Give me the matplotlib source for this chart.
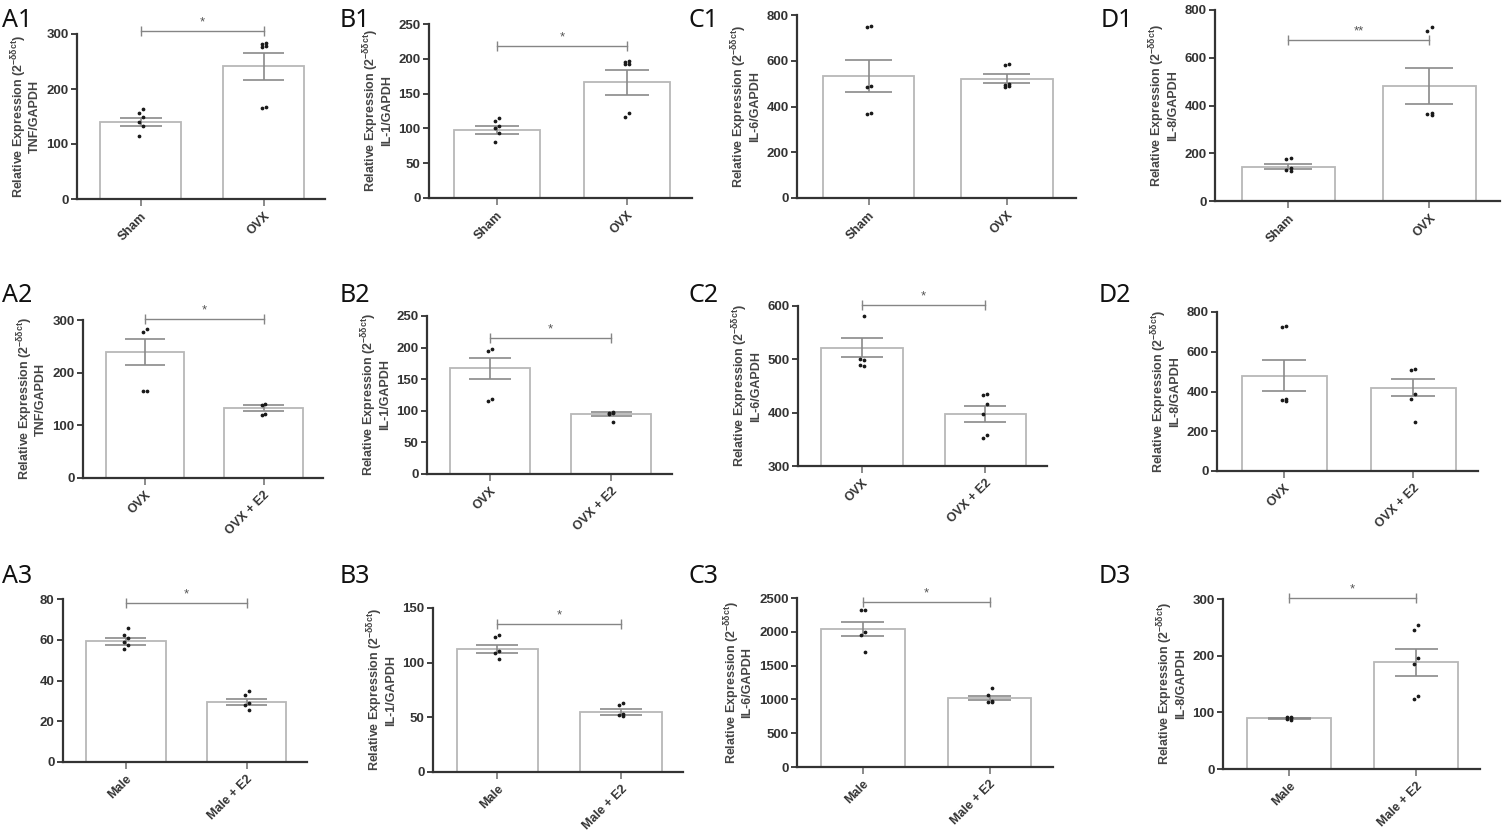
import matplotlib.pyplot as plt
import numpy as np

plt.rcParams['font.family'] = ['Liberation Sans', 'DejaVu Sans']
plt.rcParams['mathtext.default'] = 'regular'

W, H = 1504, 831

# group names per row
row1_groups = ['Sham', 'OVX']
row2_groups = ['OVX', 'OVX + E2']
row3_groups = ['Male', 'Male + E2']

# row 1: Sham vs OVX
a1_mean = [140, 241]
a1_sem = [8, 24]
a1_pts = [[164, 157, 149, 140, 133, 115], [284, 282, 279, 277, 167, 165]]

b1_mean = [98, 166]
b1_sem = [5.5, 18]
b1_pts = [[115, 111, 104, 100, 93, 80], [197, 196, 193, 192, 122, 116]]

c1_mean = [534, 521]
c1_sem = [70, 20]
c1_pts = [[752, 748, 490, 486, 370, 367], [585, 582, 500, 496, 490, 487]]

d1_mean = [144, 483]
d1_sem = [12, 76]
d1_pts = [[182, 176, 137, 131, 127], [727, 714, 368, 364, 360]]

# row 2: OVX vs OVX + E2
a2_mean = [239, 133]
a2_sem = [24, 5.5]
a2_pts = [[282, 278, 166, 165], [141, 139, 122, 120]]

b2_mean = [167, 95]
b2_sem = [16, 3]
b2_pts = [[198, 195, 119, 115], [98, 97, 96, 95, 83]]

c2_mean = [522, 398]
c2_sem = [18.5, 15]
c2_pts = [[582, 500, 498, 489, 487], [435, 433, 416, 398, 359, 352]]

d2_mean = [480, 419]
d2_sem = [78, 43]
d2_pts = [[728, 725, 362, 357, 353], [513, 509, 389, 362, 248]]

# row 3: Male vs Male + E2
a3_mean = [59.2, 29.5]
a3_sem = [1.7, 1.5]
a3_pts = [[66, 62.5, 61, 59, 57.5, 55.5], [35, 33, 29, 28, 25.6]]

b3_mean = [112.5, 54.9]
b3_sem = [4, 2.8]
b3_pts = [[125.6, 123.5, 111, 109, 103.7], [63, 61.5, 53, 52.4, 51.5]]

c3_mean = [2040, 1025]
c3_sem = [100, 32]
c3_pts = [[2327, 2317, 1990, 1955, 1698], [1163, 1064, 980, 965, 955]]

d3_mean = [89.4, 188]
d3_sem = [1.3, 23]
d3_pts = [[92, 91, 89.5, 88, 86.5], [254, 245, 196, 185, 128, 124]]

genes = ['TNF', 'IL-1', 'IL-6', 'IL-8']

# label, gene, groups, mean, sem, points, yticks, sig y, sig text,
# axes box in pixels (left, right, top, bottom), show ylabel
panels = [
    ('A1', 0, row1_groups, a1_mean, a1_sem, a1_pts, [0, 100, 200, 300], 305, '*', (77, 325, 34, 199), True),
    ('B1', 1, row1_groups, b1_mean, b1_sem, b1_pts, [0, 50, 100, 150, 200, 250], 218, '*', (429, 692, 24, 198), True),
    ('C1', 2, row1_groups, c1_mean, c1_sem, c1_pts, [0, 200, 400, 600, 800], None, '', (797, 1076, 15, 198), True),
    ('D1', 3, row1_groups, d1_mean, d1_sem, d1_pts, [0, 200, 400, 600, 800], 675, '**', (1215, 1500, 10, 201), True),
    ('A2', 0, row2_groups, a2_mean, a2_sem, a2_pts, [0, 100, 200, 300], 302, '*', (83, 323, 320, 478), True),
    ('B2', 1, row2_groups, b2_mean, b2_sem, b2_pts, [0, 50, 100, 150, 200, 250], 215, '*', (427, 672, 316, 474), True),
    ('C2', 2, row2_groups, c2_mean, c2_sem, c2_pts, [300, 400, 500, 600], 602, '*', (798, 1047, 306, 466), True),
    ('D2', 3, row2_groups, d2_mean, d2_sem, d2_pts, [0, 200, 400, 600, 800], None, '', (1217, 1478, 312, 471), True),
    ('A3', 0, row3_groups, a3_mean, a3_sem, a3_pts, [0, 20, 40, 60, 80], 78, '*', (63, 307, 599, 762), False),
    ('B3', 1, row3_groups, b3_mean, b3_sem, b3_pts, [0, 50, 100, 150], 135, '*', (433, 683, 608, 772), True),
    ('C3', 2, row3_groups, c3_mean, c3_sem, c3_pts, [0, 500, 1000, 1500, 2000, 2500], 2436, '*', (797, 1053, 598, 767), True),
    ('D3', 3, row3_groups, d3_mean, d3_sem, d3_pts, [0, 100, 200, 300], 301, '*', (1223, 1480, 599, 769), True),
]

letter_pos = {'A1': (2, 27), 'B1': (340, 27), 'C1': (688, 27), 'D1': (1101, 27),
              'A2': (2, 302), 'B2': (340, 302), 'C2': (688, 302), 'D2': (1099, 302),
              'A3': (2, 583), 'B3': (340, 583), 'C3': (688, 583), 'D3': (1099, 583)}

fig = plt.figure(figsize=(W / 100, H / 100), dpi=100)

for lab, gi, groups, mean, sem, pts, yticks, sig_y, sig_txt, box, show_yl in panels:
    l, r, t, b = box
    ax = fig.add_axes([l / W, 1 - b / H, (r - l) / W, (b - t) / H])
    ymin, ymax = yticks[0], yticks[-1]
    x = np.arange(len(groups))
    heights = [m - ymin for m in mean]
    ax.bar(x, heights, bottom=ymin, width=0.66, color='white', edgecolor='#b8b8b8', linewidth=1.3, zorder=2)
    lo = [m - s for m, s in zip(mean, sem)]
    hi = [m + s for m, s in zip(mean, sem)]
    ax.vlines(x, lo, hi, color='#8a8a8a', lw=1.2, zorder=3)
    ax.hlines(lo + hi, list(x - 0.17) * 2, list(x + 0.17) * 2, color='#8a8a8a', lw=1.2, zorder=3)
    for i, grp in enumerate(pts):
        offs = [(-1) ** k * 0.016 for k in range(len(grp))]
        ax.plot([i + o for o in offs], grp, 'o', ms=1.7, color='#1a1a1a', clip_on=False, zorder=4)
    if sig_y is not None:
        ax.plot([0, 1], [sig_y, sig_y], color='#858585', lw=1.0, marker='|', ms=7, mew=1.0, clip_on=False)
        ax.annotate(sig_txt, (0.5, sig_y), xytext=(0, 2), textcoords='offset points',
                    ha='center', va='bottom', fontsize=9.5, color='#555555', annotation_clip=False)
    ax.set_xlim(-0.52, 1.5)
    ax.set_ylim(ymin, ymax)
    ax.set_yticks(yticks)
    ax.set_xticks(x)
    ax.set_xticklabels(groups, rotation=45, ha='right', rotation_mode='anchor',
                       fontsize=9, fontweight='bold', color='#333333', family='Liberation Sans')
    for tl in ax.get_yticklabels():
        tl.set_fontsize(9.5)
        tl.set_fontweight('bold')
        tl.set_color('#333333')
        tl.set_family('Liberation Sans')
    ax.tick_params(axis='y', length=4, width=1.3, color='#333333', pad=2)
    ax.tick_params(axis='x', length=5, width=1.2, color='#777777', pad=3)
    for s in ['top', 'right']:
        ax.spines[s].set_visible(False)
    for s in ['left', 'bottom']:
        ax.spines[s].set_color('#333333')
        ax.spines[s].set_linewidth(1.6)
    if show_yl:
        ax.set_ylabel('Relative Expression (2$^{-\\delta\\delta ct}$)\n' + genes[gi] + '/GAPDH',
                      fontsize=9, fontweight='bold', color='#444444', linespacing=1.0, labelpad=4,
                      family='Liberation Sans')
    lx, ly = letter_pos[lab]
    fig.text(lx / W, 1 - ly / H, lab, fontsize=18, family='Noto Sans', va='baseline', ha='left', color='#111111')

fig.savefig('out.png', dpi=100)
